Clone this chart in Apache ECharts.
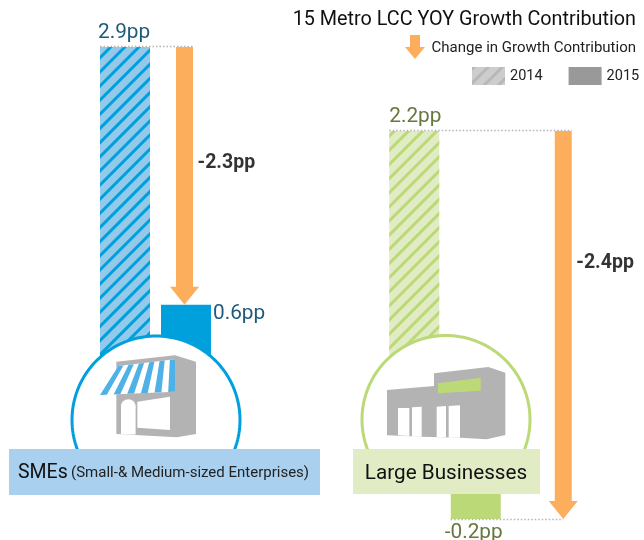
<!DOCTYPE html>
<html>
<head>
<meta charset="utf-8">
<style>html,body{margin:0;padding:0;background:#fff}#c{width:644px;height:540px}</style>
<script src="https://cdn.jsdelivr.net/npm/echarts@6/dist/echarts.min.js"></script>
</head>
<body>
<div id="c"></div>
<script>
const years = ['2014', '2015'];
const smeValues = [2.9, 0.6];
const largeValues = [2.2, -0.2];
const smeChange = [2.9, 0.6];
const largeChange = [2.2, -0.2];
const valueLabels = { sme: ['2.9pp', '0.6pp'], large: ['2.2pp', '-0.2pp'] };
const changeLabels = { sme: '-2.3pp', large: '-2.4pp' };
const titleText = '15 Metro LCC YOY Growth Contribution';
const changeLegendText = 'Change in Growth Contribution';
const smeTitle = 'SMEs';
const smeSubtitle = '(Small-& Medium-sized Enterprises)';
const largeTitle = 'Large Businesses';

const FONT = 'Roboto';
const BLUE = '#00a0dc', BLUE_L = '#93c9ea', BLUE_TXT = '#1f5a7a';
const GREEN = '#bcd977', GREEN_L = '#e1ecc5', GREEN_TXT = '#66783f';
const ORANGE = '#fdae5c';
const hatch = (c, g) => ({ symbol: 'rect', dashArrayX: [1, 0], dashArrayY: [2.1, g || 6.1], rotation: -Math.PI / 4, color: c, symbolSize: 1 });

function arrowSeries(gridIdx, vals, label, dx, labelDy, endRule) {
  return {
    type: 'custom', xAxisIndex: gridIdx, yAxisIndex: gridIdx, z: 5, clip: false, silent: true,
    encode: { x: 0, y: [1, 2] },
    data: [[1, vals[0], vals[1]]],
    renderItem(params, api) {
      const a = api.coord([1, api.value(1)]);
      const b = api.coord([1, api.value(2)]);
      const x = a[0] + dx, y0 = a[1], y1 = b[1];
      const start = api.coord([0, api.value(1)])[0] - 25;
      const dot = { stroke: '#b5b5b5', lineWidth: 1.5, lineDash: [1.5, 2] };
      const kids = [
        { type: 'line', shape: { x1: start, y1: y0 - 0.5, x2: x + 8.5, y2: y0 - 0.5 }, style: dot },
        { type: 'polygon', shape: { points: [[x - 8.5, y0], [x + 8.5, y0], [x + 8.5, y1 - 18], [x + 14.5, y1 - 18], [x, y1], [x - 14.5, y1 - 18], [x - 8.5, y1 - 18]] }, style: { fill: ORANGE } },
        { type: 'text', x: x + 13, y: y0 + labelDy, style: { text: label, fontFamily: FONT, fontSize: 19.5, fontWeight: 'bold', fill: '#333', textVerticalAlign: 'middle' } }
      ];
      if (endRule) kids.unshift({ type: 'line', shape: { x1: a[0] - 25, y1: y1 + 0.5, x2: x, y2: y1 + 0.5 }, style: dot });
      return { type: 'group', children: kids };
    }
  };
}

function barSeries(name, gridIdx, vals, idx, itemStyle, label) {
  return {
    name, type: 'bar', xAxisIndex: gridIdx, yAxisIndex: gridIdx, barWidth: 50, barGap: '-100%',
    silent: true, itemStyle, label,
    data: vals.map((v, i) => (i === idx ? v : null))
  };
}
const lbl = (text, color, position) => ({
  show: true, formatter: text, color, position, fontFamily: FONT, fontSize: 20.8, align: 'left', verticalAlign: 'top'
});

// decorative icons (zoom coordinates -> page)
const P = (ox, oy) => (pts) => pts.map(p => [ox + p[0] / 3, oy + p[1] / 3]);
const pa = P(0, 280), pb = P(340, 320);
const poly = (points, fill, z) => ({ type: 'polygon', z: z || 21, shape: { points }, style: { fill } });

// circle cut off behind the name plate
function dome(cx, cy, r, stroke) {
  const pts = [];
  const a0 = Math.asin(50 / r);
  for (let i = 0; i <= 120; i++) {
    const a = (Math.PI + 2 * a0) * i / 120 - a0;
    pts.push([cx + r * Math.cos(a), cy - r * Math.sin(a)]);
  }
  return { type: 'polygon', z: 20, shape: { points: pts }, style: { fill: '#fff', stroke, lineWidth: 3 } };
}

const icons = [];
icons.push(dome(156, 420, 84, BLUE));
icons.push(dome(446, 419.5, 84, GREEN));
// store
icons.push(poly(pa([[349, 245], [525, 226], [588, 245], [588, 462], [530, 472], [349, 462]]), '#b3b3b3'));
icons.push(poly(pa([[355, 258], [525, 238], [525, 335], [300, 345]]), '#fff', 22));
const N = 11;
for (let i = 0; i < N; i += 2) {
  const t0 = i / N, t1 = (i + 1) / N;
  const tx = (t) => 355 + 170 * t, bx = (t) => 300 + 225 * t;
  const ty = (t) => 258 - 20 * t, by = (t) => 345 - 10 * t;
  icons.push(poly(pa([[tx(t0), ty(t0)], [tx(t1), ty(t1)], [bx(t1), by(t1)], [bx(t0), by(t0)]]), '#4fb1e6', 23));
}
icons.push(poly(pa([[412, 365], [510, 350], [510, 450], [412, 443]]), '#fff', 22));
icons.push({ type: 'circle', z: 22, shape: { cx: 128.3, cy: 406.5, r: 7.3 }, style: { fill: '#fff' } });
icons.push({ type: 'rect', z: 22, shape: { x: 121, y: 406.5, width: 14.6, height: 28 }, style: { fill: '#fff' } });
// large building
icons.push(poly(pb([[141, 210], [282, 198], [282, 160], [445, 141], [496, 158], [496, 345], [440, 358], [360, 353], [245, 350], [141, 346]]), '#b3b3b3'));
[[[174, 264], [208, 264], [208, 348], [174, 346]],
 [[216, 262], [245, 260], [245, 350], [216, 350]],
 [[290, 260], [318, 258], [318, 352], [290, 352]],
 [[326, 258], [360, 256], [360, 353], [326, 353]]].forEach(d => icons.push(poly(pb(d), '#fff', 22)));
icons.push(poly(pb([[294, 190], [422, 173], [422, 212], [294, 220]]), GREEN, 22));
// name plates
icons.push({ type: 'rect', z: 30, shape: { x: 9, y: 449, width: 311, height: 46 }, style: { fill: '#a9d0ef' } });
icons.push({ type: 'rect', z: 30, shape: { x: 353, y: 449, width: 187, height: 45 }, style: { fill: GREEN_L } });
icons.push({ type: 'text', z: 31, x: 18, y: 473, style: {
  text: '{a|' + smeTitle + '} {b|' + smeSubtitle + '}', verticalAlign: 'middle',
  rich: { a: { fontFamily: FONT, fontSize: 19.5, fill: '#111' }, b: { fontFamily: FONT, fontSize: 15, fill: '#222' } } } });
icons.push({ type: 'text', z: 31, x: 446, y: 474, style: { text: largeTitle, fontFamily: FONT, fontSize: 20.7, fill: '#111', align: 'center', verticalAlign: 'middle' } });
// header
icons.push({ type: 'text', z: 31, x: 636, y: 20.5, style: { text: titleText, fontFamily: FONT, fontSize: 19.8, fill: '#111', align: 'right', verticalAlign: 'middle' } });
icons.push({ type: 'text', z: 31, x: 636, y: 48, style: { text: changeLegendText, fontFamily: FONT, fontSize: 15, fill: '#222', align: 'right', verticalAlign: 'middle' } });
icons.push(poly([[410, 35], [420, 35], [420, 47], [425, 47], [415, 59], [405, 47], [410, 47]], ORANGE));

const option = {
  animation: false,
  backgroundColor: '#fff',
  legend: {
    left: 472, top: 67, width: 172, itemWidth: 33, itemHeight: 18, itemGap: 26, orient: 'horizontal', selectedMode: false,
    padding: 0,
    icon: 'rect',
    textStyle: { fontFamily: FONT, fontSize: 14.5, color: '#222', padding: [2, 0, 0, 0] },
    data: [
      { name: '2014', itemStyle: { color: '#cdcdcd', decal: hatch('#b8b8b8', 7) } },
      { name: '2015', itemStyle: { color: '#999999' } }
    ]
  },
  grid: [
    { left: 94.5, width: 122, top: 47, height: 325 },
    { left: 383.5, width: 123, top: 131, height: 388 }
  ],
  xAxis: [
    { type: 'category', gridIndex: 0, data: years, show: false },
    { type: 'category', gridIndex: 1, data: years, show: false }
  ],
  yAxis: [
    { type: 'value', gridIndex: 0, min: 0, max: 2.9, show: false },
    { type: 'value', gridIndex: 1, min: -0.2, max: 2.2, show: false }
  ],
  graphic: { elements: icons },
  series: [
    barSeries('2014', 0, smeValues, 0, { color: BLUE_L, decal: hatch(BLUE) }, lbl(valueLabels.sme[0], BLUE_TXT, [-2, -25])),
    barSeries('2015', 0, smeValues, 1, { color: BLUE }, lbl(valueLabels.sme[1], BLUE_TXT, [52, -1])),
    barSeries('2014', 1, largeValues, 0, { color: GREEN_L, decal: hatch(GREEN) }, lbl(valueLabels.large[0], GREEN_TXT, [0, -25])),
    barSeries('2015', 1, largeValues, 1, { color: GREEN }, lbl(valueLabels.large[1], GREEN_TXT, [-6, 36])),
    arrowSeries(0, smeChange, changeLabels.sme, -1.5, 116, false),
    arrowSeries(1, largeChange, changeLabels.large, 87.5, 132, true)
  ]
};
const chart = echarts.init(document.getElementById('c'), null, { renderer: 'canvas' });
chart.setOption(option);
</script>
</body>
</html>
